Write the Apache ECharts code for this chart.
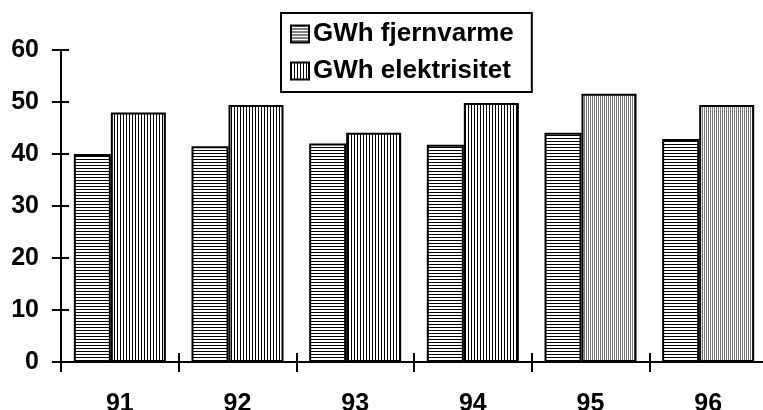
<!DOCTYPE html>
<html>
<head>
<meta charset="utf-8">
<script src="https://cdn.jsdelivr.net/npm/echarts@6/dist/echarts.min.js"></script>
<style>
  html, body { margin: 0; padding: 0; background: #fff; }
  #chart { width: 763px; height: 410px; }
</style>
</head>
<body>
<div id="chart"></div>
<script>
// Annual energy figures, 1991-1996
const years = ['91', '92', '93', '94', '95', '96'];
const fjernvarme = [40, 41.5, 42, 41.8, 44.1, 42.9];
const elektrisitet = [48, 49.4, 44.1, 49.8, 51.6, 49.4];
const yTicks = [0, 10, 20, 30, 40, 50, 60];

// Hatch fills built on small canvases
function hatch(w, h, draw) {
  const c = document.createElement('canvas');
  c.width = w; c.height = h;
  const ctx = c.getContext('2d');
  ctx.fillStyle = '#fff';
  ctx.fillRect(0, 0, w, h);
  draw(ctx);
  return { image: c, repeat: 'repeat' };
}
const horizHatch = hatch(4, 3, ctx => { ctx.fillStyle = '#000'; ctx.fillRect(0, 0, 4, 1); });
const vertHatch = hatch(3, 4, ctx => { ctx.fillStyle = '#000'; ctx.fillRect(0, 0, 1, 4); });
const fineVertHatch = hatch(2, 4, ctx => { ctx.fillStyle = '#777'; ctx.fillRect(0, 0, 1, 4); });

const font = '"Liberation Sans", Arial, sans-serif';
const chart = echarts.init(document.getElementById('chart'), null, { renderer: 'canvas' });

// later years are printed with a finer vertical screen
const elData = elektrisitet.map((v, i) => i >= 4 ? { value: v, itemStyle: { color: fineVertHatch } } : v);

const axisLine = { show: true, lineStyle: { color: '#000', width: 2 } };
const tickStyle = { color: '#000', width: 2 };

chart.setOption({
  animation: false,
  backgroundColor: '#fff',
  grid: { left: 61, right: -4, top: 50, bottom: 48, containLabel: false, outerBoundsMode: 'none' },
  legend: {
    orient: 'vertical',
    left: 281, top: 13,
    padding: [8, 18, 8, 9],
    itemGap: 11,
    itemWidth: 18, itemHeight: 17,
    icon: 'rect',
    borderColor: '#000', borderWidth: 2,
    backgroundColor: '#fff',
    itemStyle: { borderColor: '#000', borderWidth: 2 },
    textStyle: { fontFamily: font, fontWeight: 'bold', fontSize: 26, lineHeight: 26, color: '#000', padding: [0, 0, 0, -1] },
    data: ['GWh fjernvarme', 'GWh elektrisitet']
  },
  xAxis: [
    {
      type: 'category', data: years, boundaryGap: true,
      axisLine: axisLine,
      axisTick: { show: true, length: 10, lineStyle: tickStyle },
      axisLabel: { margin: 30, fontFamily: font, fontWeight: 'bold', fontSize: 25, color: '#000' }
    },
    {
      type: 'category', data: years, boundaryGap: true, position: 'bottom',
      axisLine: { show: false },
      axisTick: { show: true, inside: true, length: 9, lineStyle: tickStyle },
      axisLabel: { show: false }
    }
  ],
  yAxis: [
    {
      type: 'value', min: yTicks[0], max: yTicks[yTicks.length - 1], interval: 10,
      axisLine: axisLine,
      axisTick: { show: true, length: 9, lineStyle: tickStyle },
      splitLine: { show: false },
      axisLabel: { margin: 22, fontFamily: font, fontWeight: 'bold', fontSize: 25, color: '#000' }
    },
    {
      type: 'value', min: yTicks[0], max: yTicks[yTicks.length - 1], interval: 10, position: 'left',
      axisLine: { show: false },
      axisTick: { show: true, inside: true, length: 8, lineStyle: tickStyle },
      splitLine: { show: false },
      axisLabel: { show: false }
    }
  ],
  series: [
    {
      name: 'GWh fjernvarme', type: 'bar', data: fjernvarme,
      barWidth: 37, barGap: '0%',
      itemStyle: { color: horizHatch, borderColor: '#000', borderWidth: 2 }
    },
    {
      name: 'GWh elektrisitet', type: 'bar', data: elData,
      barWidth: 55, barGap: '0%',
      itemStyle: { color: vertHatch, borderColor: '#000', borderWidth: 2 }
    }
  ]
});
</script>
</body>
</html>
